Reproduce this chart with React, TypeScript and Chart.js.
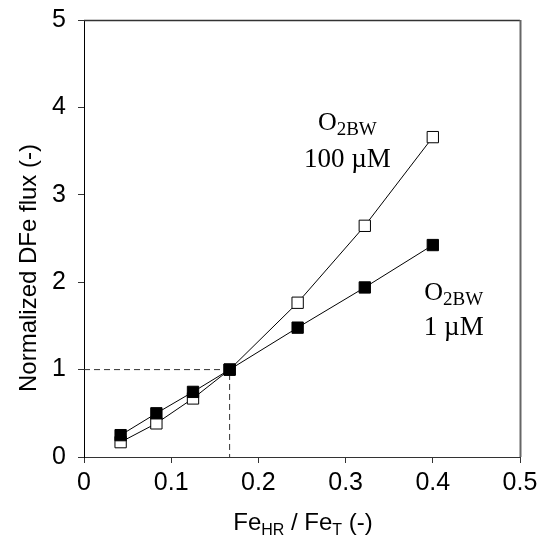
import React, { useEffect, useRef } from "react";
import { Chart, registerables } from "chart.js";

Chart.register(...registerables);

const xValues = [0.042, 0.083, 0.125, 0.167, 0.245, 0.322, 0.4];
const flux100uM = [0.17, 0.385, 0.67, 1.0, 1.765, 2.645, 3.66];
const flux1uM = [0.25, 0.5, 0.745, 1.0, 1.48, 1.94, 2.425];
const refX = [0, 0.167, 0.167];
const refY = [1, 1, 0];
const xTicks = [0, 0.1, 0.2, 0.3, 0.4, 0.5];
const yTicks = [0, 1, 2, 3, 4, 5];

const SANS = "'Liberation Sans', Arial, sans-serif";
const SERIF = "'Liberation Serif', 'Times New Roman', serif";

type Part = { t: string; sub?: boolean };

function drawParts(
  ctx: CanvasRenderingContext2D,
  parts: Part[],
  cx: number,
  baseline: number,
  family: string,
  size: number,
  subSize: number,
  subShift: number
) {
  const widths = parts.map((p) => {
    ctx.font = `${p.sub ? subSize : size}px ${family}`;
    return ctx.measureText(p.t).width;
  });
  const total = widths.reduce((a, b) => a + b, 0);
  let x = cx - total / 2;
  ctx.textAlign = "left";
  ctx.textBaseline = "alphabetic";
  parts.forEach((p, i) => {
    ctx.font = `${p.sub ? subSize : size}px ${family}`;
    ctx.fillText(p.t, x, baseline + (p.sub ? subShift : 0));
    x += widths[i];
  });
}

const annotationPlugin = {
  id: "annotations",
  afterDraw(chart: any) {
    const ctx: CanvasRenderingContext2D = chart.ctx;
    const a = chart.chartArea;
    ctx.save();
    // frame top & right
    ctx.strokeStyle = "#333";
    ctx.lineWidth = 1.5;
    ctx.beginPath();
    ctx.moveTo(a.left, a.top + 0.5);
    ctx.lineTo(a.right, a.top + 0.5);
    ctx.stroke();
    ctx.strokeStyle = "#666";
    ctx.lineWidth = 2;
    ctx.beginPath();
    ctx.moveTo(a.right + 0.5, a.top);
    ctx.lineTo(a.right + 0.5, a.bottom);
    ctx.stroke();

    ctx.fillStyle = "#000";
    const xs = chart.scales.x;
    const ys = chart.scales.y;
    // in-plot labels
    const l1x = xs.getPixelForValue(0.302);
    drawParts(ctx, [{ t: "O" }, { t: "2BW", sub: true }], l1x, ys.getPixelForValue(3.74), SERIF, 26, 19, 5);
    drawParts(ctx, [{ t: "100 µM" }], l1x, ys.getPixelForValue(3.315), SERIF, 27, 19, 5);
    const l2x = xs.getPixelForValue(0.424);
    drawParts(ctx, [{ t: "O" }, { t: "2BW", sub: true }], l2x, ys.getPixelForValue(1.8), SERIF, 26, 19, 5);
    drawParts(ctx, [{ t: "1 µM" }], l2x, ys.getPixelForValue(1.395), SERIF, 27, 19, 5);

    // x-axis title
    drawParts(
      ctx,
      [{ t: "Fe" }, { t: "HR", sub: true }, { t: " / Fe" }, { t: "T", sub: true }, { t: " (-)" }],
      (a.left + a.right) / 2 + 1,
      530,
      SANS,
      24,
      16,
      5
    );
    // y-axis title
    ctx.translate(36, 268);
    ctx.rotate(-Math.PI / 2);
    drawParts(ctx, [{ t: "Normalized DFe flux (-)" }], 0, 0, SANS, 24, 16, 5);
    ctx.restore();
  },
};

export default function App() {
  const ref = useRef<HTMLCanvasElement | null>(null);
  useEffect(() => {
    if (!ref.current) return;
    const chart = new Chart(ref.current, {
      type: "line",
      data: {
        datasets: [
          {
            label: "O2BW 1 µM",
            data: xValues.map((x, i) => ({ x, y: flux1uM[i] })),
            borderColor: "#000",
            borderWidth: 1,
            backgroundColor: "#000",
            pointStyle: "rect",
            pointRadius: 8,
            pointBorderColor: "#000",
            pointBackgroundColor: "#000",
            pointBorderWidth: 1,
          },
          {
            label: "O2BW 100 µM",
            data: xValues.map((x, i) => ({ x, y: flux100uM[i] })),
            borderColor: "#000",
            borderWidth: 1,
            backgroundColor: "#fff",
            pointStyle: "rect",
            pointRadius: 8,
            pointBorderColor: "#000",
            pointBackgroundColor: "#fff",
            pointBorderWidth: 1,
          },
          {
            label: "reference",
            data: refX.map((x, i) => ({ x, y: refY[i] })),
            borderColor: "#333",
            borderWidth: 1,
            borderDash: [6, 4],
            pointRadius: 0,
          },
        ],
      },
      options: {
        animation: false,
        responsive: true,
        maintainAspectRatio: false,
        layout: { padding: { top: 20, right: 19, left: 0, bottom: 0 } },
        plugins: { legend: { display: false }, tooltip: { enabled: false } },
        scales: {
          x: {
            type: "linear",
            min: 0,
            max: 0.5,
            afterFit: (s: any) => {
              s.height = 82;
              s.paddingLeft = 0;
              s.paddingRight = 0;
            },
            afterBuildTicks: (s: any) => {
              s.ticks = xTicks.map((v) => ({ value: v }));
            },
            ticks: {
              font: { family: SANS, size: 25 },
              color: "#000",
              padding: 5,
              maxRotation: 0,
              callback: (v: any) => String(Number(Number(v).toFixed(1))),
            },
            grid: { drawOnChartArea: false, tickLength: 6, color: "#333" },
            border: { color: "#333", width: 1 },
          },
          y: {
            type: "linear",
            min: 0,
            max: 5,
            afterFit: (s: any) => {
              s.width = 84;
              s.paddingTop = 0;
              s.paddingBottom = 0;
            },
            afterBuildTicks: (s: any) => {
              s.ticks = yTicks.map((v) => ({ value: v }));
            },
            ticks: {
              font: { family: SANS, size: 25 },
              color: "#000",
              padding: 12,
              callback: (v: any) => String(v),
            },
            grid: { drawOnChartArea: false, tickLength: 6, color: "#333" },
            border: { color: "#000", width: 1 },
          },
        },
      },
      plugins: [annotationPlugin],
    });
    return () => chart.destroy();
  }, []);
  return (
    <div style={{ position: "absolute", left: 0, top: 0, width: 539, height: 539, background: "#fff" }}>
      <canvas ref={ref} />
    </div>
  );
}
